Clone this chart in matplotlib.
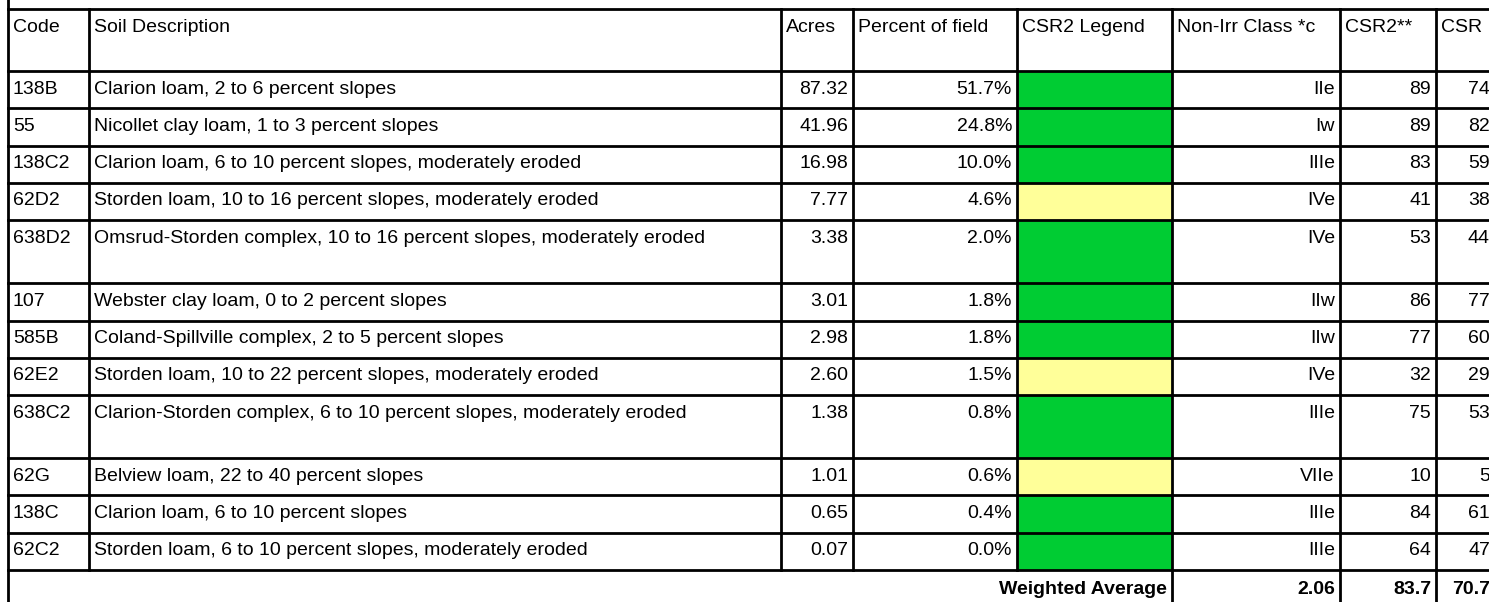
import matplotlib.pyplot as plt
from matplotlib.patches import Rectangle

plt.rcParams['font.family'] = ['Liberation Sans', 'DejaVu Sans']

# table data
headers = ['Code', 'Soil Description', 'Acres', 'Percent of field', 'CSR2 Legend',
           'Non-Irr Class *c', 'CSR2**', 'CSR']
codes = ['138B', '55', '138C2', '62D2', '638D2', '107', '585B', '62E2', '638C2', '62G', '138C', '62C2']
descriptions = [
    'Clarion loam, 2 to 6 percent slopes',
    'Nicollet clay loam, 1 to 3 percent slopes',
    'Clarion loam, 6 to 10 percent slopes, moderately eroded',
    'Storden loam, 10 to 16 percent slopes, moderately eroded',
    'Omsrud-Storden complex, 10 to 16 percent slopes, moderately eroded',
    'Webster clay loam, 0 to 2 percent slopes',
    'Coland-Spillville complex, 2 to 5 percent slopes',
    'Storden loam, 10 to 22 percent slopes, moderately eroded',
    'Clarion-Storden complex, 6 to 10 percent slopes, moderately eroded',
    'Belview loam, 22 to 40 percent slopes',
    'Clarion loam, 6 to 10 percent slopes',
    'Storden loam, 6 to 10 percent slopes, moderately eroded',
]
acres = [87.32, 41.96, 16.98, 7.77, 3.38, 3.01, 2.98, 2.60, 1.38, 1.01, 0.65, 0.07]
percent = [51.7, 24.8, 10.0, 4.6, 2.0, 1.8, 1.8, 1.5, 0.8, 0.6, 0.4, 0.0]
legend = ['green', 'green', 'green', 'yellow', 'green', 'green', 'green', 'yellow',
          'green', 'yellow', 'green', 'green']
non_irr = ['IIe', 'Iw', 'IIIe', 'IVe', 'IVe', 'IIw', 'IIw', 'IVe', 'IIIe', 'VIIe', 'IIIe', 'IIIe']
csr2 = [89, 89, 83, 41, 53, 86, 77, 32, 75, 10, 84, 64]
csr = [74, 82, 59, 38, 44, 77, 60, 29, 53, 5, 61, 47]
avg_label = 'Weighted Average'
avg_values = ['2.06', '83.7', '70.7']

# layout (pixels)
col_edges = [8, 89, 781, 853, 1017, 1172, 1340, 1436, 1495]
tall_rows = [4, 8]  # rows whose description wraps
header_top, header_h = 9, 62
row_h, tall_h = 37.3, 63
legend_colors = {'green': '#00CC33', 'yellow': '#FFFF99'}

row_tops = [header_top + header_h]
for i in range(len(codes)):
    row_tops.append(row_tops[-1] + (tall_h if i in tall_rows else row_h))
table_bottom = row_tops[-1]

fig = plt.figure(figsize=(14.89, 6.02), dpi=100)
ax = fig.add_axes([0, 0, 1, 1])
ax.set_xlim(0, 1489)
ax.set_ylim(602, 0)
ax.axis('off')

lw = 2.0
fs = 14
pad = 5

# legend cells
for i, c in enumerate(legend):
    ax.add_patch(Rectangle((col_edges[4], row_tops[i]), col_edges[5] - col_edges[4],
                           row_tops[i + 1] - row_tops[i], facecolor=legend_colors[c],
                           edgecolor='none', zorder=1))

# header text
for j, h in enumerate(headers):
    ax.text(col_edges[j] + pad, header_top + 18.5, h, fontsize=fs, ha='left', va='center')

# body text
for i in range(len(codes)):
    y = row_tops[i] + 18
    ax.text(col_edges[0] + pad, y, codes[i], fontsize=fs, va='center')
    ax.text(col_edges[1] + pad, y, descriptions[i], fontsize=fs, va='center')
    right_vals = {2: f'{acres[i]:.2f}', 3: f'{percent[i]:.1f}%', 5: non_irr[i],
                  6: str(csr2[i]), 7: str(csr[i])}
    for j, v in right_vals.items():
        ax.text(col_edges[j + 1] - pad, y, v, fontsize=fs, ha='right', va='center')

# weighted average row
ya = table_bottom + 19.5
ax.text(col_edges[5] - pad, ya, avg_label, fontsize=fs, ha='right', va='center', fontweight='bold')
for j, v in zip([5, 6, 7], avg_values):
    ax.text(col_edges[j + 1] - pad, ya, v, fontsize=fs, ha='right', va='center', fontweight='bold')

# grid lines
ax.plot([col_edges[0], col_edges[0]], [0, 602], color='black', lw=lw, zorder=3)
for y in [header_top] + row_tops:
    ax.plot([col_edges[0], 1489], [y, y], color='black', lw=lw, zorder=3)
for j, x in enumerate(col_edges[1:-1], start=1):
    bottom = 602 if j >= 5 else table_bottom
    ax.plot([x, x], [header_top, bottom], color='black', lw=lw, zorder=3)

fig.savefig('out.png', dpi=100)
